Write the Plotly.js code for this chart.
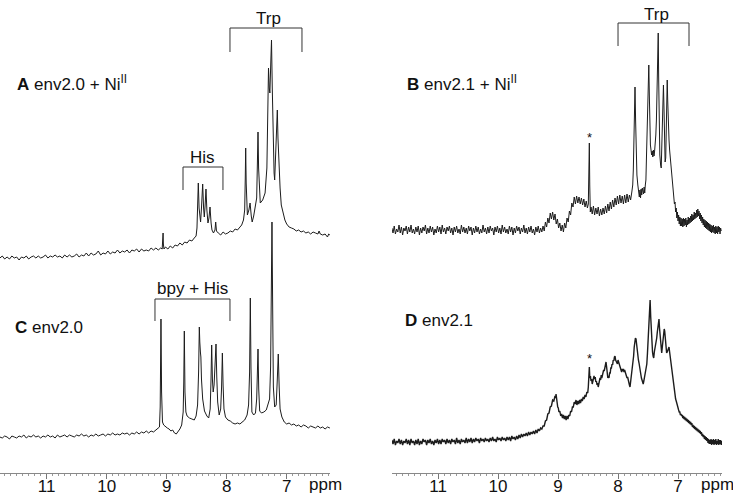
<!DOCTYPE html>
<html><head><meta charset="utf-8">
<script src="https://cdn.plot.ly/plotly-3.0.1.min.js"></script>
<style>html,body{margin:0;padding:0;background:#fff}#chart{width:733px;height:498px}</style>
</head><body><div id="chart"></div>
<script>
// ---- Spectrum A: env2.0 + Ni(II) ----
const ppmA = [11.78,11.74,11.70,11.66,11.62,11.58,11.54,11.50,11.46,11.42,11.38,11.34,11.30,11.26,11.22,11.18,11.14,11.10,11.06,11.02,10.98,10.94,10.90,10.86,10.82,10.78,10.74,10.70,10.66,10.62,10.58,10.54,10.50,10.46,10.42,10.38,10.34,10.30,10.26,10.22,10.18,10.14,10.10,10.06,10.02,9.98,9.94,9.90,9.86,9.82,9.78,9.74,9.70,9.66,9.62,9.58,9.54,9.50,9.46,9.42,9.38,9.34,9.30,9.26,9.22,9.18,9.14,9.10,9.075,9.065,9.06,9.055,9.045,9.02,8.98,8.94,8.90,8.86,8.82,8.78,8.74,8.70,8.66,8.62,8.58,8.54,8.51,8.495,8.485,8.473,8.46,8.445,8.435,8.42,8.40,8.385,8.373,8.36,8.345,8.33,8.312,8.295,8.278,8.26,8.245,8.22,8.195,8.183,8.17,8.14,8.10,8.06,8.02,7.98,7.94,7.90,7.86,7.82,7.78,7.75,7.72,7.70,7.69,7.683,7.675,7.665,7.655,7.63,7.61,7.59,7.575,7.55,7.53,7.50,7.488,7.478,7.468,7.455,7.44,7.40,7.36,7.33,7.315,7.303,7.29,7.28,7.265,7.253,7.24,7.225,7.21,7.20,7.185,7.168,7.156,7.145,7.13,7.11,7.09,7.06,7.03,7.00,6.96,6.92,6.88,6.84,6.80,6.76,6.72,6.68,6.64,6.60,6.56,6.52,6.48,6.46,6.44,6.40,6.36,6.32,6.30,6.28];
const intA = [0,2,-1,1,-1,2,0,1,-2,1,0,2,-1,1,2,0,2,0,1,3,0,2,1,3,1,2,0,3,1,3,1,2,4,1,3,2,5,2,5,3,4,7,3,5,4,7,4,6,5,8,5,7,6,8,5,8,7,9,6,9,7,8,7,10,8,10,8,10,9,15,25,14,9,11,9,12,10,13,12,15,13,16,15,18,17,20,22,30,50,75,50,38,36,50,74,50,41,52,69,48,35,40,51,35,28,25,28,36,27,25,23,26,24,25,27,26,29,28,31,33,38,48,80,110,75,50,43,48,55,42,36,42,48,60,95,126,90,65,55,58,65,90,150,190,170,165,195,218,170,115,85,78,100,140,148,120,95,70,53,44,38,34,31,30,29,27,28,26,27,25,26,24,26,25,24,27,24,23,24,21,24,23];

// ---- Spectrum C: env2.0 ----
const ppmC = [11.78,11.74,11.70,11.66,11.62,11.58,11.54,11.50,11.46,11.42,11.38,11.34,11.30,11.26,11.22,11.18,11.14,11.10,11.06,11.02,10.98,10.94,10.90,10.86,10.82,10.78,10.74,10.70,10.66,10.62,10.58,10.54,10.50,10.46,10.42,10.38,10.34,10.30,10.26,10.22,10.18,10.14,10.10,10.06,10.02,9.98,9.94,9.90,9.86,9.82,9.78,9.74,9.70,9.66,9.62,9.58,9.54,9.50,9.46,9.42,9.38,9.34,9.30,9.26,9.22,9.18,9.15,9.12,9.108,9.095,9.085,9.07,9.05,9.02,8.99,8.96,8.93,8.90,8.87,8.84,8.81,8.78,8.75,8.725,8.715,8.706,8.695,8.68,8.66,8.62,8.58,8.54,8.51,8.485,8.468,8.456,8.448,8.438,8.43,8.42,8.40,8.37,8.33,8.30,8.275,8.262,8.25,8.238,8.225,8.21,8.19,8.178,8.165,8.15,8.125,8.10,8.085,8.072,8.06,8.045,8.02,7.98,7.94,7.90,7.86,7.82,7.78,7.74,7.70,7.66,7.635,7.618,7.606,7.595,7.58,7.55,7.52,7.50,7.488,7.478,7.466,7.45,7.42,7.38,7.34,7.31,7.285,7.268,7.255,7.245,7.235,7.222,7.20,7.175,7.158,7.14,7.125,7.11,7.08,7.04,7.00,6.96,6.92,6.88,6.84,6.80,6.76,6.72,6.68,6.64,6.60,6.56,6.52,6.48,6.44,6.40,6.36,6.32,6.28];
const intC = [0,-1,1,0,-2,1,0,-1,1,0,2,-1,1,0,2,0,1,-1,1,0,2,0,1,-1,2,0,1,2,0,2,1,0,2,1,3,1,2,0,2,1,3,1,2,3,1,3,2,4,2,3,2,4,3,4,2,4,3,5,3,5,4,6,4,6,5,7,8,10,30,118,45,15,12,10,9,8,6,7,4,3,5,8,12,25,55,106,45,25,21,19,18,17,21,32,65,110,95,85,80,58,38,26,21,19,28,55,92,58,45,52,78,93,60,35,22,28,50,84,52,28,20,17,16,14,13,14,13,15,17,22,32,65,139,70,25,22,24,38,70,88,48,26,24,25,27,32,38,70,150,215,140,50,30,32,55,83,50,28,20,15,13,14,12,13,11,12,10,12,11,9,11,10,9,11,9,10,8,10,9];

// ---- Spectrum B: env2.1 + Ni(II) ----
const ppmB = [11.77,11.75,11.73,11.71,11.69,11.67,11.65,11.63,11.61,11.59,11.57,11.55,11.53,11.51,11.49,11.47,11.45,11.43,11.41,11.39,11.37,11.35,11.33,11.31,11.29,11.27,11.25,11.23,11.21,11.19,11.17,11.15,11.13,11.11,11.09,11.07,11.05,11.03,11.01,10.99,10.97,10.95,10.93,10.91,10.89,10.87,10.85,10.83,10.81,10.79,10.77,10.75,10.73,10.71,10.69,10.67,10.65,10.63,10.61,10.59,10.57,10.55,10.53,10.51,10.49,10.47,10.45,10.43,10.41,10.39,10.37,10.35,10.33,10.31,10.29,10.27,10.25,10.23,10.21,10.19,10.17,10.15,10.13,10.11,10.09,10.07,10.05,10.03,10.01,9.99,9.97,9.95,9.93,9.91,9.89,9.87,9.85,9.83,9.81,9.79,9.77,9.75,9.73,9.71,9.69,9.67,9.65,9.63,9.61,9.59,9.57,9.55,9.53,9.51,9.49,9.47,9.45,9.43,9.41,9.39,9.37,9.35,9.33,9.31,9.29,9.27,9.25,9.23,9.21,9.19,9.17,9.15,9.13,9.11,9.09,9.07,9.05,9.03,9.01,8.99,8.97,8.95,8.93,8.91,8.89,8.87,8.85,8.83,8.81,8.79,8.77,8.75,8.73,8.71,8.69,8.67,8.65,8.63,8.61,8.59,8.57,8.55,8.53,8.51,8.495,8.485,8.478,8.471,8.462,8.45,8.43,8.41,8.39,8.37,8.35,8.33,8.31,8.29,8.27,8.25,8.23,8.21,8.19,8.17,8.15,8.13,8.11,8.09,8.07,8.05,8.03,8.01,7.99,7.97,7.95,7.93,7.91,7.89,7.87,7.85,7.83,7.81,7.79,7.77,7.755,7.745,7.735,7.728,7.717,7.707,7.697,7.685,7.67,7.655,7.645,7.635,7.625,7.615,7.605,7.595,7.585,7.575,7.565,7.555,7.545,7.535,7.525,7.51,7.497,7.487,7.478,7.47,7.46,7.45,7.44,7.43,7.42,7.41,7.40,7.39,7.38,7.37,7.36,7.35,7.34,7.33,7.322,7.313,7.303,7.29,7.28,7.272,7.262,7.252,7.243,7.233,7.225,7.215,7.205,7.197,7.19,7.18,7.172,7.163,7.15,7.14,7.13,7.12,7.11,7.10,7.09,7.08,7.07,7.06,7.05,7.04,7.03,7.02,7.01,7.00,6.99,6.98,6.97,6.96,6.95,6.94,6.93,6.92,6.91,6.90,6.89,6.88,6.87,6.86,6.85,6.84,6.83,6.82,6.81,6.80,6.79,6.78,6.77,6.76,6.75,6.74,6.73,6.72,6.71,6.70,6.69,6.68,6.67,6.66,6.65,6.64,6.63,6.62,6.61,6.60,6.59,6.58,6.57,6.56,6.55,6.54,6.53,6.52,6.51,6.50,6.49,6.48,6.47,6.46,6.45,6.44,6.43,6.42,6.41,6.40,6.39,6.38,6.37,6.36,6.35,6.34,6.33,6.32,6.31,6.30,6.29,6.28,6.27];
const intB = [2,-3,4,-4,1,-2,5,-3,3,-5,2,-1,4,-4,3,-2,5,-3,1,-4,3,-2,4,-5,2,-3,3,-1,5,-4,2,-3,4,-2,3,-5,1,-3,4,-2,3,-4,5,-2,2,-4,3,-1,4,-3,2,-5,3,-2,4,-3,1,-4,5,-2,3,-3,2,-4,4,-1,3,-5,2,-3,4,-2,3,-4,1,-3,5,-2,2,-4,3,-3,4,-1,2,-5,3,-2,4,-3,2,-4,5,-2,3,-3,1,-4,4,-2,3,-5,2,-3,4,-1,3,-4,2,-2,5,-3,2,-4,3,-2,4,-3,1,-5,3,-2,4,-3,2,-2,4,-1,8,3,12,7,17,11,18,10,16,6,11,2,7,-1,5,-2,7,2,12,8,19,15,27,23,33,26,34,27,33,26,32,25,31,23,29,22,26,50,87,45,18,23,16,24,15,22,16,23,14,21,15,22,16,24,17,26,19,28,21,30,23,32,25,34,26,35,27,34,26,35,27,36,28,35,30,38,45,60,85,110,143,110,75,55,45,39,33,40,32,41,35,42,38,36,43,37,45,50,75,120,150,165,135,100,85,80,75,79,73,80,74,79,85,95,110,140,175,197,150,100,75,65,62,80,115,140,145,120,85,68,72,100,138,150,130,105,90,80,72,66,58,50,44,38,34,26,28,18,22,12,18,9,15,6,13,4,12,4,11,3,12,4,11,5,12,3,10,5,13,6,12,7,14,8,16,9,15,10,18,11,17,12,20,13,21,14,19,11,17,9,15,7,13,5,11,3,10,2,9,1,8,0,7,-1,6,-2,5,-3,4,-2,5,-3,3,-4,4,-3,3,-4,4,-2,3,-4,2,-1];

// ---- Spectrum D: env2.1 ----
const ppmD = [11.77,11.75,11.73,11.71,11.69,11.67,11.65,11.63,11.61,11.59,11.57,11.55,11.53,11.51,11.49,11.47,11.45,11.43,11.41,11.39,11.37,11.35,11.33,11.31,11.29,11.27,11.25,11.23,11.21,11.19,11.17,11.15,11.13,11.11,11.09,11.07,11.05,11.03,11.01,10.99,10.97,10.95,10.93,10.91,10.89,10.87,10.85,10.83,10.81,10.79,10.77,10.75,10.73,10.71,10.69,10.67,10.65,10.63,10.61,10.59,10.57,10.55,10.53,10.51,10.49,10.47,10.45,10.43,10.41,10.39,10.37,10.35,10.33,10.31,10.29,10.27,10.25,10.23,10.21,10.19,10.17,10.15,10.13,10.11,10.09,10.07,10.05,10.03,10.01,9.99,9.97,9.95,9.93,9.91,9.89,9.87,9.85,9.83,9.81,9.79,9.77,9.75,9.73,9.71,9.69,9.67,9.65,9.63,9.61,9.59,9.57,9.55,9.53,9.51,9.49,9.47,9.45,9.43,9.41,9.39,9.37,9.35,9.33,9.31,9.29,9.27,9.25,9.23,9.21,9.19,9.17,9.15,9.13,9.11,9.09,9.07,9.05,9.04,9.033,9.025,9.015,9.005,8.995,8.985,8.97,8.955,8.94,8.925,8.91,8.895,8.88,8.865,8.85,8.835,8.82,8.805,8.79,8.775,8.76,8.745,8.73,8.715,8.70,8.685,8.67,8.655,8.64,8.625,8.61,8.595,8.58,8.565,8.55,8.535,8.52,8.505,8.495,8.485,8.478,8.47,8.46,8.45,8.44,8.43,8.42,8.41,8.40,8.39,8.38,8.37,8.36,8.35,8.34,8.33,8.32,8.31,8.30,8.29,8.28,8.27,8.26,8.25,8.24,8.23,8.22,8.21,8.20,8.19,8.18,8.17,8.16,8.15,8.14,8.13,8.12,8.11,8.10,8.09,8.08,8.07,8.06,8.05,8.04,8.03,8.02,8.01,8.00,7.99,7.98,7.97,7.96,7.95,7.94,7.93,7.92,7.91,7.90,7.89,7.88,7.87,7.86,7.85,7.84,7.83,7.82,7.81,7.80,7.79,7.78,7.77,7.76,7.75,7.74,7.73,7.72,7.71,7.70,7.69,7.68,7.67,7.66,7.65,7.64,7.63,7.62,7.61,7.60,7.59,7.58,7.57,7.56,7.55,7.54,7.53,7.52,7.51,7.50,7.49,7.48,7.472,7.465,7.455,7.445,7.435,7.425,7.415,7.405,7.395,7.385,7.375,7.365,7.355,7.345,7.335,7.325,7.317,7.31,7.30,7.29,7.28,7.272,7.26,7.25,7.24,7.23,7.222,7.21,7.20,7.19,7.18,7.17,7.16,7.15,7.14,7.13,7.12,7.11,7.10,7.09,7.08,7.07,7.06,7.05,7.04,7.03,7.02,7.01,7.00,6.99,6.98,6.97,6.96,6.95,6.94,6.93,6.92,6.91,6.90,6.89,6.88,6.87,6.86,6.85,6.84,6.83,6.82,6.81,6.80,6.79,6.78,6.77,6.76,6.75,6.74,6.73,6.72,6.71,6.70,6.69,6.68,6.67,6.66,6.65,6.64,6.63,6.62,6.61,6.60,6.59,6.58,6.57,6.56,6.55,6.54,6.53,6.52,6.51,6.50,6.49,6.48,6.47,6.46,6.45,6.44,6.43,6.42,6.41,6.40,6.39,6.38,6.37,6.36,6.35,6.34,6.33,6.32,6.31,6.30,6.29,6.28,6.27];
const intD = [2,-2,3,-3,1,-1,3,-2,2,-3,1,-1,3,-2,2,-3,3,-1,1,-3,2,-2,3,-3,1,-2,3,0,2,-3,2,-1,3,-2,1,-3,2,-1,3,-2,2,-2,3,0,2,-2,3,-1,2,-2,3,0,2,-2,4,-1,2,-2,3,0,2,-1,4,-1,3,0,4,-1,3,0,4,1,3,-1,4,1,3,0,4,1,3,0,4,1,5,1,3,0,5,2,4,1,5,2,4,1,5,2,5,1,6,3,5,2,6,3,7,4,8,5,8,6,9,6,10,7,10,8,11,8,12,9,13,11,14,13,16,16,21,22,28,29,35,36,42,41,46,44,48,42,41,35,34,30,31,26,28,24,27,23,26,22,26,23,27,26,31,30,35,35,40,38,42,37,41,38,42,39,43,41,45,43,47,45,50,49,55,62,75,64,66,61,63,58,62,61,66,63,65,60,61,57,59,55,60,59,64,62,67,64,68,67,72,71,76,76,80,75,71,64,66,64,69,69,74,74,78,77,82,81,85,86,82,80,79,78,82,80,78,75,74,71,70,73,71,73,70,72,70,68,67,64,65,61,62,57,55,60,63,65,70,78,86,95,100,104,103,96,90,85,82,79,74,71,67,64,62,60,58,61,64,68,71,74,78,88,100,118,132,140,142,125,110,98,90,86,84,90,93,97,100,104,110,116,121,123,115,105,96,91,89,96,102,108,113,111,100,93,89,90,92,94,95,90,85,80,75,70,64,60,55,51,48,43,41,38,36,33,32,30,30,27,28,26,27,24,26,23,25,22,24,21,23,20,22,19,21,18,20,17,19,15,17,14,16,13,15,12,14,11,13,10,12,9,11,8,10,6,8,5,7,3,6,2,5,1,4,-1,3,-2,2,-2,3,-3,2,-2,3,-3,2,-2,3,-3,1,-2,3,-3,2,-2,2,-3,1];

// ---- Annotation data (ppm, intensity units of each panel) ----
const bracketSpans = [ // [x axis, y axis, ppm left, ppm right, top, leg bottom]
  ['x','y', 7.945, 6.745, 230, 206],   // Trp (A)
  ['x','y', 8.728, 8.062, 91, 68],     // His (A)
  ['x2','y2', 8.00, 6.817, 207, 184],  // Trp (B)
  ['x','y3', 9.195, 7.945, 138, 116]   // bpy + His (C)
];
const bracketLabels = [ // [x axis, y axis, ppm, intensity, text]
  ['x','y', 7.31, 240, 'Trp'],
  ['x','y', 8.395, 101, 'His'],
  ['x2','y2', 7.367, 216, 'Trp'],
  ['x','y3', 8.562, 149, 'bpy + His']
];
const panelLabels = [
  ['x','y', 11.53, 175, '<b>A</b> env2.0 + Ni<sup>II</sup>'],
  ['x2','y2', 11.55, 147, '<b>B</b> env2.1 + Ni<sup>II</sup>'],
  ['x','y3', 11.56, 110, '<b>C</b> env2.0'],
  ['x2','y4', 11.58, 122, '<b>D</b> env2.1']
];
const starMarks = [['x2','y2', 8.483, 93], ['x2','y4', 8.483, 84]];
const unitLabels = [['x', 6.345, 'ppm'], ['x2', 6.342, 'ppm']];

const FONT = 'Liberation Sans, Arial, Helvetica, sans-serif';
const TXT = {family: FONT, size: 17, color: '#111'};

const traces = [
  {x: ppmA, y: intA, xaxis: 'x', yaxis: 'y', mode: 'lines', line: {color: '#1c1c1c', width: 1}, hoverinfo: 'skip'},
  {x: ppmB, y: intB, xaxis: 'x2', yaxis: 'y2', mode: 'lines', line: {color: '#1c1c1c', width: 1}, hoverinfo: 'skip'},
  {x: ppmC, y: intC, xaxis: 'x', yaxis: 'y3', mode: 'lines', line: {color: '#1c1c1c', width: 1}, hoverinfo: 'skip'},
  {x: ppmD, y: intD, xaxis: 'x2', yaxis: 'y4', mode: 'lines', line: {color: '#1c1c1c', width: 1.4}, hoverinfo: 'skip'}
];

const shapes = bracketSpans.map(b => ({
  type: 'path', xref: b[0], yref: b[1],
  path: `M ${b[2]},${b[5]} L ${b[2]},${b[4]} L ${b[3]},${b[4]} L ${b[3]},${b[5]}`,
  line: {color: '#333', width: 1}
}));

const annotations = [];
bracketLabels.forEach(l => annotations.push({xref: l[0], yref: l[1], x: l[2], y: l[3], text: l[4],
  showarrow: false, xanchor: 'center', yanchor: 'middle', font: TXT}));
panelLabels.forEach(l => annotations.push({xref: l[0], yref: l[1], x: l[2], y: l[3], text: l[4],
  showarrow: false, xanchor: 'left', yanchor: 'middle', font: TXT}));
starMarks.forEach(s => annotations.push({xref: s[0], yref: s[1], x: s[2], y: s[3], text: '*',
  showarrow: false, xanchor: 'center', yanchor: 'middle', font: {family: FONT, size: 13, color: '#111'}}));
unitLabels.forEach(u => annotations.push({xref: u[0], yref: 'paper', x: u[1], y: -0.025, text: u[2],
  showarrow: false, xanchor: 'center', yanchor: 'middle', font: TXT}));

const xBase = {
  showgrid: false, zeroline: false, showline: true, linecolor: '#888', linewidth: 1,
  ticks: 'outside', ticklen: 5, tickcolor: '#777', tickwidth: 1,
  tickmode: 'linear', tick0: 7, dtick: 1, ticklabelstandoff: -7,
  minor: {dtick: 0.1, ticks: 'outside', ticklen: 2, tickcolor: '#999', tickwidth: 1},
  tickfont: TXT, fixedrange: true
};
const yBase = {visible: false, fixedrange: true, showgrid: false, zeroline: false};

const layout = {
  width: 733, height: 498,
  margin: {l: 0, r: 0, t: 0, b: 25, pad: 0},
  paper_bgcolor: '#fff', plot_bgcolor: 'rgba(0,0,0,0)',
  showlegend: false,
  xaxis: Object.assign({}, xBase, {domain: [0, 330/733], range: [11.778, 6.278], anchor: 'y'}),
  xaxis2: Object.assign({}, xBase, {domain: [392/733, 722/733], range: [11.767, 6.267], anchor: 'y2'}),
  yaxis: Object.assign({}, yBase, {range: [-215, 258], anchor: 'x'}),
  yaxis2: Object.assign({}, yBase, {range: [-243, 230], anchor: 'x2'}),
  yaxis3: Object.assign({}, yBase, {range: [-36, 437], anchor: 'x', overlaying: 'y'}),
  yaxis4: Object.assign({}, yBase, {range: [-31, 442], anchor: 'x2', overlaying: 'y2'}),
  shapes: shapes, annotations: annotations
};

Plotly.newPlot('chart', traces, layout, {staticPlot: true, displayModeBar: false});
</script></body></html>
